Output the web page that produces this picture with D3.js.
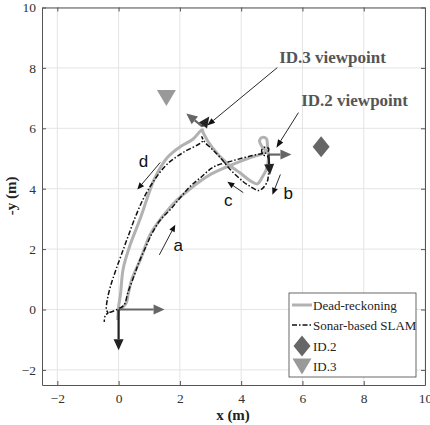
<!DOCTYPE html>
<html lang="en">
<head>
<meta charset="UTF-8">
<title>Trajectory</title>
<script src="https://d3js.org/d3.v7.min.js"></script>
<style>
  body { margin: 0; background: #fff; }
  svg text { font-family: "Liberation Serif", "Times New Roman", serif; }
</style>
</head>
<body>
<div id="chart"></div>
<script>
// ---- data (metres) ----
var xTicks = [-2, 0, 2, 4, 6, 8, 10];
var yTicks = [-2, 0, 2, 4, 6, 8, 10];

// dead-reckoning path: legs a, loop, b, c, d
var drX = [0, 0.12, 0.25, 0.32, 0.45, 0.71, 1.03, 1.43, 1.85, 2.34, 2.93, 3.55, 4.30, 4.69, 4.80,
  4.69, 4.60, 4.69, 4.82, 4.86, 4.89,
  4.89, 4.82, 4.69, 4.53,
  4.30, 3.97, 3.55, 3.06, 2.76, 2.73,
  2.40, 2.01, 1.59, 1.20, 1.03, 0.71, 0.38, 0.15, 0.06, 0.0, -0.03];
var drY = [0, 0.06, 0.22, 0.55, 1.05, 1.65, 2.48, 3.07, 3.57, 4.00, 4.43, 4.73, 5.03, 5.16, 5.25,
  5.38, 5.59, 5.70, 5.66, 5.43, 5.13,
  4.96, 4.63, 4.39, 4.16,
  4.26, 4.52, 4.83, 5.36, 5.86, 5.95,
  5.62, 5.39, 5.03, 4.39, 3.97, 3.02, 2.15, 1.35, 0.49, 0.10, -0.35];

// sonar-based SLAM path
var slamX = [-0.30, -0.05, 0.18, 0.30, 0.50, 0.68, 0.90, 1.08, 1.35, 1.69, 2.01, 2.34, 2.67, 3.10, 3.74, 4.30, 4.66,
  4.85, 4.90, 4.79, 4.67, 4.72, 4.88,
  4.90, 4.89, 4.85, 4.69, 4.56,
  4.30, 4.07, 3.65, 3.32, 3.06, 2.83, 2.76, 2.72, 2.74,
  2.11, 1.59, 1.13, 0.81, 0.55, 0.32, 0.09, -0.11, -0.27, -0.37, -0.40, -0.35, -0.43, -0.47];
var slamY = [-0.10, 0.0, 0.15, 0.55, 1.10, 1.60, 2.10, 2.50, 2.95, 3.31, 3.70, 4.08, 4.36, 4.72, 4.93, 5.08, 5.16,
  5.20, 5.32, 5.38, 5.28, 5.12, 5.05,
  4.80, 4.46, 4.23, 4.00, 3.94,
  4.07, 4.23, 4.63, 5.03, 5.30, 5.52, 5.62, 5.72, 5.58,
  5.20, 4.82, 4.23, 3.67, 3.07, 2.45, 1.81, 1.25, 0.75, 0.32, 0.0, -0.12, -0.18, -0.41];

// vehicle frames (origin, ID.2 viewpoint, ID.3 viewpoint)
var frameX = [0, 4.89, 2.73];
var frameY = [0, 5.13, 6.06];
var axisXu = [1.5, 0.75, -0.52], axisXv = [0, 0, 0.43];   // gray arrow
var axisYu = [0, 0.05, 0.23], axisYv = [-1.35, -0.68, 0.33]; // black arrow

// landmarks
var id2 = [6.61, 5.39];
var id3 = [1.56, 7.02];

// direction letters
var legLabels = ["a", "b", "c", "d"];
var legLabelX = [1.95, 5.54, 3.58, 0.81];
var legLabelY = [2.15, 3.87, 3.64, 4.90];
var legArrowFrom = [[1.33, 1.81], [5.28, 4.47], [4.07, 3.87], [1.36, 4.87]];
var legArrowTo = [[1.85, 2.81], [5.02, 3.80], [3.55, 4.23], [0.61, 3.97]];

// viewpoint callouts
var calloutText = ["ID.3 viewpoint", "ID.2 viewpoint"];
var calloutPos = [[5.24, 8.15], [5.96, 6.75]];
var calloutFrom = [[5.18, 8.01], [5.87, 6.52]];
var calloutTo = [[2.89, 6.09], [5.15, 5.36]];

// ---- layout ----
var W = 430, H = 425;
var svg = d3.select("#chart").append("svg")
  .attr("width", W).attr("height", H);

var x = d3.scaleLinear().domain([-2.5, 10]).range([42, 425]);
var y = d3.scaleLinear().domain([-2.5, 10]).range([385, 7.5]);

// grid
svg.append("g").selectAll("line").data(xTicks).enter().append("line")
  .attr("x1", d => x(d)).attr("x2", d => x(d))
  .attr("y1", y(-2.5)).attr("y2", y(10))
  .attr("stroke", "#e4e4e4");
svg.append("g").selectAll("line").data(yTicks).enter().append("line")
  .attr("y1", d => y(d)).attr("y2", d => y(d))
  .attr("x1", x(-2.5)).attr("x2", x(10))
  .attr("stroke", "#e4e4e4");

// axes
function styleAxis(g) {
  g.attr("font-family", "'Liberation Serif', serif");
  g.selectAll(".domain").attr("stroke", "#555");
  g.selectAll(".tick line").attr("stroke", "#555");
  g.selectAll("text").style("font-size", "13.5px").attr("fill", "#333")
    .style("font-family", "'Liberation Serif', serif");
}
svg.append("g").attr("transform", "translate(0," + y(-2.5) + ")")
  .call(d3.axisBottom(x).tickValues(xTicks).tickSizeInner(-4).tickSizeOuter(0).tickPadding(8))
  .call(styleAxis);
svg.append("g").attr("transform", "translate(" + x(-2.5) + ",0)")
  .call(d3.axisLeft(y).tickValues(yTicks).tickSizeInner(-4).tickSizeOuter(0).tickPadding(6))
  .call(styleAxis);
svg.append("g").attr("transform", "translate(0," + y(10) + ")")
  .call(d3.axisTop(x).tickValues(xTicks).tickSizeInner(-4).tickSizeOuter(0).tickFormat(""))
  .call(styleAxis);
svg.append("g").attr("transform", "translate(" + x(10) + ",0)")
  .call(d3.axisRight(y).tickValues(yTicks).tickSizeInner(-4).tickSizeOuter(0).tickFormat(""))
  .call(styleAxis);

svg.append("text").attr("x", 233).attr("y", 420)
  .attr("text-anchor", "middle").style("font-size", "15px").style("font-weight", "bold")
  .attr("fill", "#222").text("x (m)");
svg.append("text").attr("transform", "translate(16,196) rotate(-90)")
  .attr("text-anchor", "middle").style("font-size", "15px").style("font-weight", "bold")
  .attr("fill", "#222").text("-y (m)");

var plot = svg.append("g");

// trajectories
var line = d3.line().x(d => x(d[0])).y(d => y(d[1])).curve(d3.curveCatmullRom.alpha(0.5));
plot.append("path").datum(d3.zip(drX, drY))
  .attr("d", line).attr("fill", "none")
  .attr("stroke", "#b2b2b2").attr("stroke-width", 3).attr("stroke-linejoin", "round");
plot.append("path").datum(d3.zip(slamX, slamY))
  .attr("d", line).attr("fill", "none")
  .attr("stroke", "#111").attr("stroke-width", 1.5)
  .attr("stroke-dasharray", "5,2,1.5,2");

// arrow helper (pixel coords)
function arrow(g, x0, y0, x1, y1, color, w, hl, hw) {
  var a = Math.atan2(y1 - y0, x1 - x0);
  var bx = x1 - hl * Math.cos(a), by = y1 - hl * Math.sin(a);
  g.append("line").attr("x1", x0).attr("y1", y0).attr("x2", bx).attr("y2", by)
    .attr("stroke", color).attr("stroke-width", w);
  var px = -Math.sin(a) * hw / 2, py = Math.cos(a) * hw / 2;
  g.append("polygon")
    .attr("points", [[x1, y1], [bx + px, by + py], [bx - px, by - py]].map(p => p.join(",")).join(" "))
    .attr("fill", color);
}

// vehicle frames
frameX.forEach(function (fx, i) {
  var fy = frameY[i];
  arrow(plot, x(fx), y(fy), x(fx + axisXu[i]), y(fy + axisXv[i]), "#666", 2.2, 11, 10);
  arrow(plot, x(fx), y(fy), x(fx + axisYu[i]), y(fy + axisYv[i]), "#222", 2.2, 11, 10);
});

// landmarks
function diamond(g, cx, cy) {
  g.append("polygon").attr("points", [[cx, cy - 10.5], [cx + 8.5, cy], [cx, cy + 10.5], [cx - 8.5, cy]].map(p => p.join(",")).join(" "))
    .attr("fill", "#666");
}
function triangle(g, cx, cy) {
  g.append("polygon").attr("points", [[cx - 9.5, cy - 7.5], [cx + 9.5, cy - 7.5], [cx, cy + 8.5]].map(p => p.join(",")).join(" "))
    .attr("fill", "#999");
}
diamond(plot, x(id2[0]), y(id2[1]));
triangle(plot, x(id3[0]), y(id3[1]));

// leg direction arrows and letters
legLabels.forEach(function (l, i) {
  arrow(plot, x(legArrowFrom[i][0]), y(legArrowFrom[i][1]), x(legArrowTo[i][0]), y(legArrowTo[i][1]), "#111", 0.9, 7, 6);
  plot.append("text").attr("x", x(legLabelX[i])).attr("y", y(legLabelY[i]))
    .attr("text-anchor", "middle").attr("dy", "0.35em")
    .style("font-family", "'Liberation Sans', Arial, sans-serif").style("font-size", "17px")
    .attr("fill", "#111").text(l);
});

// callouts
calloutText.forEach(function (t, i) {
  arrow(plot, x(calloutFrom[i][0]), y(calloutFrom[i][1]), x(calloutTo[i][0]), y(calloutTo[i][1]), "#111", 0.9, 8, 6);
  plot.append("text").attr("x", x(calloutPos[i][0])).attr("y", y(calloutPos[i][1]))
    .style("font-size", "17px").style("font-weight", "bold").attr("fill", "#555").text(t);
});

// legend
var lg = svg.append("g").attr("transform", "translate(289,293)");
lg.append("rect").attr("width", 127).attr("height", 84)
  .attr("fill", "#fff").attr("stroke", "#444").attr("stroke-width", 0.8);
var legendNames = ["Dead-reckoning", "Sonar-based SLAM", "ID.2", "ID.3"];
var rowY = [12, 32, 53, 73];
lg.append("line").attr("x1", 3).attr("x2", 23).attr("y1", rowY[0]).attr("y2", rowY[0])
  .attr("stroke", "#b2b2b2").attr("stroke-width", 3);
lg.append("line").attr("x1", 3).attr("x2", 23).attr("y1", rowY[1]).attr("y2", rowY[1])
  .attr("stroke", "#111").attr("stroke-width", 1.5).attr("stroke-dasharray", "5,2,1.5,2");
diamond(lg, 13, rowY[2]);
triangle(lg, 13, rowY[3]);
legendNames.forEach(function (n, i) {
  lg.append("text").attr("x", 24).attr("y", rowY[i]).attr("dy", "0.35em")
    .style("font-size", "13px").attr("fill", "#222").text(n);
});
</script>
</body>
</html>
